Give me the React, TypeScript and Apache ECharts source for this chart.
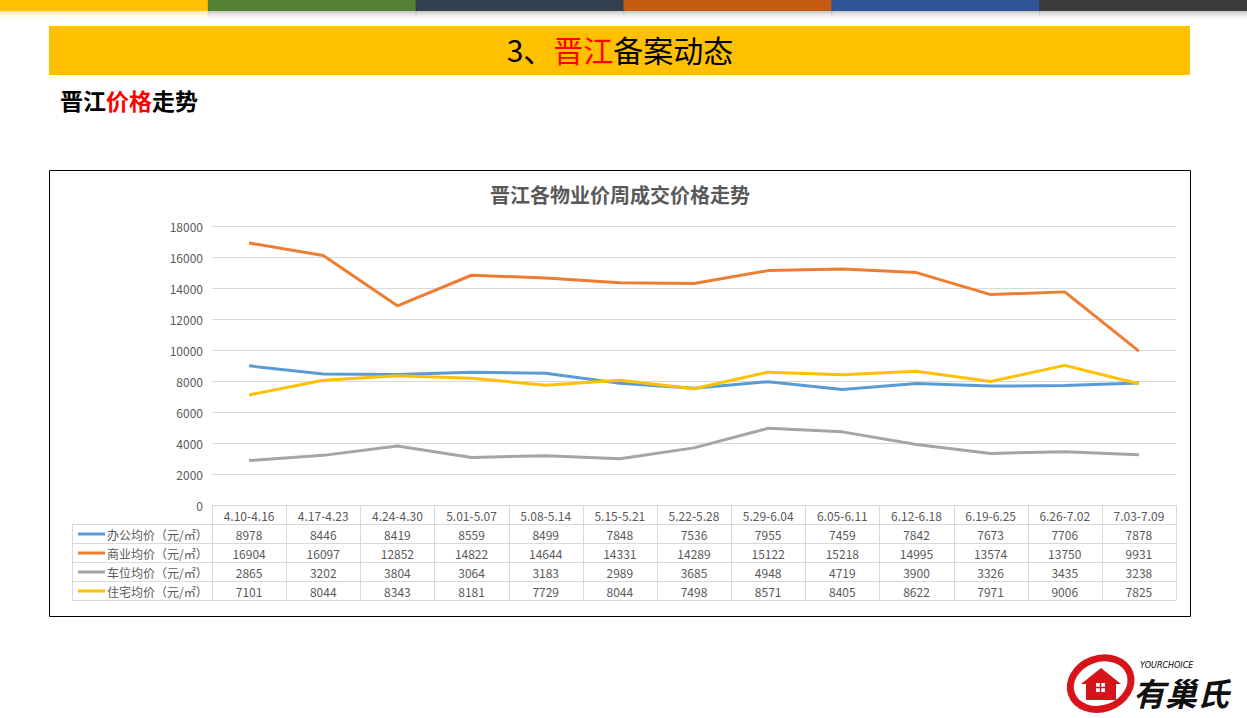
import React, { useEffect, useRef } from "react";
import * as echarts from "echarts";

const categories = [
  "4.10-4.16", "4.17-4.23", "4.24-4.30", "5.01-5.07", "5.08-5.14", "5.15-5.21", "5.22-5.28",
  "5.29-6.04", "6.05-6.11", "6.12-6.18", "6.19-6.25", "6.26-7.02", "7.03-7.09",
];
const officePrice = [8978, 8446, 8419, 8559, 8499, 7848, 7536, 7955, 7459, 7842, 7673, 7706, 7878];
const commercialPrice = [16904, 16097, 12852, 14822, 14644, 14331, 14289, 15122, 15218, 14995, 13574, 13750, 9931];
const parkingPrice = [2865, 3202, 3804, 3064, 3183, 2989, 3685, 4948, 4719, 3900, 3326, 3435, 3238];
const residentialPrice = [7101, 8044, 8343, 8181, 7729, 8044, 7498, 8571, 8405, 8622, 7971, 9006, 7825];
const seriesNames = ["办公均价（元/㎡）", "商业均价（元/㎡）", "车位均价（元/㎡）", "住宅均价（元/㎡）"];
const seriesColors = ["#5B9BD5", "#ED7D31", "#A5A5A5", "#FFC000"];
const stripeColors = ["#FFC000", "#548235", "#323F4F", "#C55A11", "#2F5597", "#3B3B3B"];

const FONT = "'Noto Sans CJK SC', 'Noto Sans', sans-serif";

export default function App() {
  const ref = useRef<HTMLDivElement>(null);
  useEffect(() => {
    const chart = echarts.init(ref.current!, null, { renderer: "svg" });
    const allSeries = [officePrice, commercialPrice, parkingPrice, residentialPrice];
    chart.setOption({
      animation: false,
      textStyle: { fontFamily: FONT },
      grid: { left: 212, right: 71, top: 226, bottom: 213 },
      xAxis: {
        type: "category",
        data: categories,
        boundaryGap: true,
        axisLine: { show: false },
        axisTick: { show: false },
        axisLabel: { show: false },
      },
      yAxis: {
        type: "value",
        min: 0,
        max: 18000,
        interval: 2000,
        axisLine: { show: false },
        axisTick: { show: false },
        axisLabel: { color: "#595959", fontSize: 12, margin: 9, fontFamily: FONT, formatter: (v: number) => String(v) },
        splitLine: { lineStyle: { color: "#D9D9D9", width: 1 } },
      },
      series: allSeries.map((d, i) => ({
        name: seriesNames[i],
        type: "line",
        data: d,
        symbol: "none",
        lineStyle: { color: seriesColors[i], width: 3 },
        itemStyle: { color: seriesColors[i] },
        z: 3,
      })),
    });

    const centers = categories.map((_, i) => chart.convertToPixel({ xAxisIndex: 0 }, i) as number);
    const colW = centers[1] - centers[0];
    const y0 = chart.convertToPixel({ yAxisIndex: 0 }, 0) as number;
    const rowH = 19;
    const tableLeft = 72;
    const plotLeft = centers[0] - colW / 2;
    const plotRight = centers[centers.length - 1] + colW / 2;
    const lineStyle = { stroke: "#D9D9D9", lineWidth: 1 };

    const g: any[] = [];
    // top stripes
    stripeColors.forEach((c, i) => {
      const w = 1247 / 6;
      g.push({ type: "rect", shape: { x: i * w, y: 0, width: w + 1, height: 11 }, style: { fill: c }, silent: true });
      g.push({
        type: "rect",
        shape: { x: i * w, y: 11, width: w + 1, height: 10 },
        style: {
          fill: new echarts.graphic.LinearGradient(0, 0, 0, 1, [
            { offset: 0, color: i === 0 ? "rgba(255,200,60,0.45)" : "rgba(120,120,120,0.45)" },
            { offset: 1, color: "rgba(255,255,255,0)" },
          ]),
        },
        silent: true,
      });
    });
    // banner
    g.push({ type: "rect", shape: { x: 49, y: 26, width: 1141, height: 49 }, style: { fill: "#FFC000" }, silent: true });
    g.push({
      type: "text",
      x: 620,
      y: 49,
      style: {
        text: "{a|3、}{r|晋江}{a|备案动态}",
        align: "center",
        verticalAlign: "middle",
        rich: {
          a: { fontSize: 30, fill: "#000", fontFamily: FONT },
          r: { fontSize: 30, fill: "#FF0000", fontFamily: FONT },
        },
      },
      silent: true,
    });
    // subtitle
    g.push({
      type: "text",
      x: 60,
      y: 100,
      style: {
        text: "{a|晋江}{r|价格}{a|走势}",
        align: "left",
        verticalAlign: "middle",
        rich: {
          a: { fontSize: 23, fontWeight: "bold", fill: "#000", fontFamily: FONT },
          r: { fontSize: 23, fontWeight: "bold", fill: "#FF0000", fontFamily: FONT },
        },
      },
      silent: true,
    });
    // chart box
    g.push({ type: "rect", shape: { x: 49.5, y: 170.5, width: 1141, height: 446 }, style: { fill: "none", stroke: "#000", lineWidth: 1 }, silent: true });
    // chart title
    g.push({
      type: "text",
      x: 620,
      y: 194,
      style: { text: "晋江各物业价周成交价格走势", align: "center", verticalAlign: "middle", fontSize: 20, fontWeight: "bold", fill: "#595959", fontFamily: FONT },
      silent: true,
    });
    // table horizontal lines
    g.push({ type: "line", shape: { x1: plotLeft, y1: y0 + 0.5, x2: plotRight, y2: y0 + 0.5 }, style: lineStyle, silent: true });
    for (let r = 1; r <= 5; r++) {
      const y = Math.round(y0 + r * rowH) + 0.5;
      g.push({ type: "line", shape: { x1: tableLeft, y1: y, x2: plotRight, y2: y }, style: lineStyle, silent: true });
    }
    // vertical lines
    g.push({ type: "line", shape: { x1: tableLeft + 0.5, y1: y0 + rowH, x2: tableLeft + 0.5, y2: y0 + 5 * rowH }, style: lineStyle, silent: true });
    for (let k = 0; k <= categories.length; k++) {
      const x = Math.round(plotLeft + k * colW) + 0.5;
      g.push({ type: "line", shape: { x1: x, y1: y0, x2: x, y2: y0 + 5 * rowH }, style: lineStyle, silent: true });
    }
    // header
    categories.forEach((c, i) => {
      g.push({
        type: "text",
        x: centers[i],
        y: y0 + rowH / 2 + 0.5,
        style: { text: c, align: "center", verticalAlign: "middle", fontSize: 12, fill: "#595959", fontFamily: FONT },
        silent: true,
      });
    });
    // rows
    allSeries.forEach((d, s) => {
      const yc = y0 + (s + 1) * rowH + rowH / 2 + 0.5;
      g.push({ type: "line", shape: { x1: 78, y1: yc, x2: 105, y2: yc }, style: { stroke: seriesColors[s], lineWidth: 3 }, silent: true });
      g.push({
        type: "text",
        x: 107,
        y: yc,
        style: { text: seriesNames[s], align: "left", verticalAlign: "middle", fontSize: 12, fill: "#595959", fontFamily: FONT },
        silent: true,
      });
      d.forEach((v, i) => {
        g.push({
          type: "text",
          x: centers[i],
          y: yc,
          style: { text: String(v), align: "center", verticalAlign: "middle", fontSize: 12, fill: "#595959", fontFamily: FONT },
          silent: true,
        });
      });
    });
    // logo
    g.push({
      type: "ellipse",
      shape: { cx: 1101, cy: 684, rx: 31, ry: 25 },
      rotation: 0.35,
      originX: 1101,
      originY: 684,
      style: { fill: "none", stroke: "#D7141A", lineWidth: 7 },
      silent: true,
    });
    g.push({
      type: "polygon",
      shape: { points: [[1081, 684], [1101, 668], [1121, 684], [1116, 684], [1116, 700], [1086, 700], [1086, 684]] },
      style: { fill: "#D7141A" },
      silent: true,
    });
    g.push({ type: "rect", shape: { x: 1096, y: 683, width: 9, height: 9 }, style: { fill: "#fff" }, silent: true });
    g.push({ type: "line", shape: { x1: 1100.5, y1: 683, x2: 1100.5, y2: 692 }, style: { stroke: "#D7141A", lineWidth: 1.5 }, silent: true });
    g.push({ type: "line", shape: { x1: 1096, y1: 687.5, x2: 1105, y2: 687.5 }, style: { stroke: "#D7141A", lineWidth: 1.5 }, silent: true });
    g.push({
      type: "text",
      x: 1140,
      y: 665,
      style: { text: "YOURCHOICE", align: "left", verticalAlign: "middle", fontSize: 8, fontStyle: "italic", fill: "#000", fontFamily: "'DejaVu Sans', sans-serif" },
      silent: true,
    });
    g.push({
      type: "text",
      x: 1133,
      y: 692,
      style: { text: "有巢氏", align: "left", verticalAlign: "middle", fontSize: 32, fontWeight: "bold", fontStyle: "italic", fill: "#111", fontFamily: FONT },
      silent: true,
    });

    chart.setOption({ graphic: { elements: g } });
    return () => chart.dispose();
  }, []);
  return (
    <div
      ref={ref}
      style={{ position: "fixed", left: 0, top: 0, width: 1247, height: 718, background: "#fff" }}
    />
  );
}
